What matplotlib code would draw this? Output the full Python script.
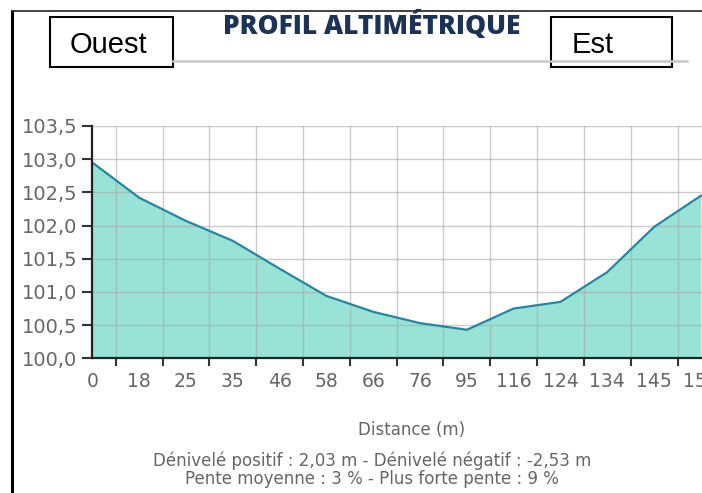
import numpy as np
import matplotlib
matplotlib.use('Agg')
import matplotlib.pyplot as plt
from matplotlib.lines import Line2D
from matplotlib.patches import Rectangle

# elevation profile, one point per category
distances = ["0", "18", "25", "35", "46", "58", "66", "76", "95", "116", "124", "134", "145", "156"]
altitudes = [102.95, 102.42, 102.07, 101.77, 101.35, 100.94, 100.70, 100.53, 100.43,
             100.75, 100.85, 101.30, 101.98, 102.45]
y_ticks = [100.0, 100.5, 101.0, 101.5, 102.0, 102.5, 103.0, 103.5]

W, H = 702, 493
fig = plt.figure(figsize=(W / 100, H / 100), dpi=100)

def fx(px):
    return px / W

def fy(py):
    return 1 - py / H

# plot area in pixels: left 92, bottom 358, top 126, runs off the right edge
step = 47.17
x_left, x_right = 92.3, 92.3 + step * 13.4
ax = fig.add_axes([fx(x_left), fy(358.3), fx(x_right - x_left), fy(126) - fy(358.3)])

x = np.arange(len(distances))
ax.fill_between(x, altitudes, 100.0, color='#98e2d6', zorder=1, lw=0)
ax.plot(x, altitudes, color='#2586a4', lw=1.6, zorder=3)

ax.set_xlim(0, 13.4)
ax.set_ylim(100.0, 103.5)

# labels on the points, tick marks and grid between them
ax.set_xticks(x)
ax.set_xticklabels(distances)
ax.set_xticks(x + 0.5, minor=True)
ax.tick_params(axis='x', which='major', length=0, pad=10, labelsize=13.5, labelcolor='#666666')
ax.tick_params(axis='x', which='minor', length=6, width=1.5, color='#333333', direction='out')
ax.set_yticks(y_ticks)
ax.set_yticklabels([f"{v:.1f}".replace('.', ',') for v in y_ticks])
ax.tick_params(axis='y', length=7, width=1.5, color='#333333', pad=4, labelsize=14, labelcolor='#666666')

ax.grid(True, axis='y', which='major', color='#aaaaaa', lw=1, alpha=0.6, zorder=2)
ax.grid(True, axis='x', which='minor', color='#aaaaaa', lw=1, alpha=0.6, zorder=2)
ax.set_axisbelow(False)

for s in ['top', 'right']:
    ax.spines[s].set_visible(False)
for s in ['left', 'bottom']:
    ax.spines[s].set_color('#222222')
    ax.spines[s].set_linewidth(1.6)
    ax.spines[s].set_zorder(4)

# texts
fig.text(fx(372), fy(26), "PROFIL ALTIMÉTRIQUE", family='Open Sans', weight='heavy',
         fontsize=19, color='#1b3358', ha='center', va='center')
fig.text(fx(412), fy(430), "Distance (m)", fontsize=12, color='#666666', ha='center', va='center')
fig.text(fx(372), fy(461), "Dénivelé positif : 2,03 m - Dénivelé négatif : -2,53 m",
         fontsize=12, color='#666666', ha='center', va='center')
fig.text(fx(372), fy(479), "Pente moyenne : 3 % - Plus forte pente : 9 %",
         fontsize=12, color='#666666', ha='center', va='center')

# frame lines and title rule
fig.add_artist(Line2D([fx(12), fx(12)], [fy(11), fy(493)], color='black', lw=2.2))
fig.add_artist(Line2D([fx(12), fx(702)], [fy(11), fy(11)], color='#333333', lw=1.3))
fig.add_artist(Line2D([fx(173), fx(687)], [fy(61), fy(61)], color='#c8c8c8', lw=1.8))

# direction boxes
for x0, x1, label, tx, ha in [(50, 173, "Ouest", 108, 'center'), (551, 672, "Est", 572, 'left')]:
    fig.add_artist(Rectangle((fx(x0), fy(67)), fx(x1 - x0), fy(17) - fy(67),
                             facecolor='white', edgecolor='black', lw=1.5))
    fig.text(fx(tx), fy(45), label, family='Liberation Sans', fontsize=21,
             color='black', ha=ha, va='center')

fig.savefig('out.png', dpi=100)
